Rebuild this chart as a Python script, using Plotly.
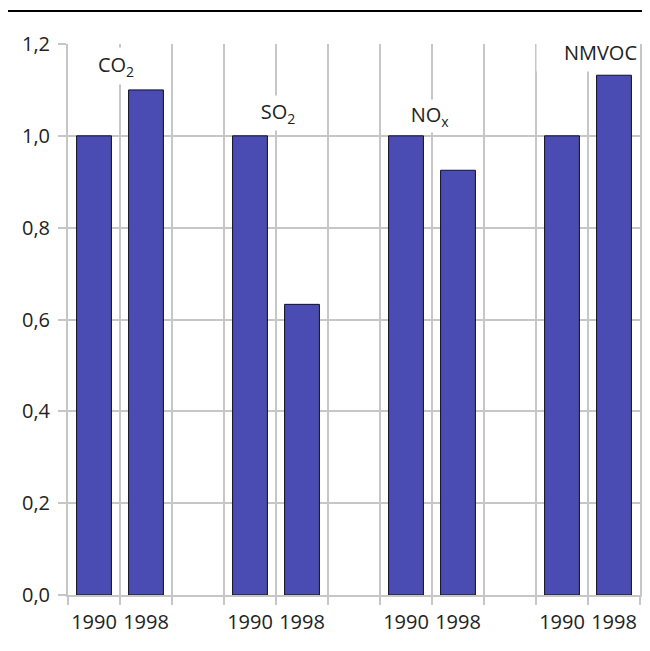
import plotly.graph_objects as go

categories = ["CO2 1990", "CO2 1998", "gap1", "SO2 1990", "SO2 1998", "gap2",
              "NOx 1990", "NOx 1998", "gap3", "NMVOC 1990", "NMVOC 1998"]
tick_labels = ["1990", "1998", "", "1990", "1998", "", "1990", "1998", "", "1990", "1998"]
values = [1.0, 1.10, None, 1.0, 0.633, None, 1.0, 0.925, None, 1.0, 1.132]
y_ticks = [0.0, 0.2, 0.4, 0.6, 0.8, 1.0, 1.2]
y_tick_text = ["0,0", "0,2", "0,4", "0,6", "0,8", "1,0", "1,2"]

FONT = "Open Sans"
GRID = "#c6c6c6"
FS = 20

fig = go.Figure(go.Bar(
    x=categories, y=values,
    marker=dict(color="#4a4cb4", line=dict(color="#111111", width=1)),
    width=0.67,
))

fig.update_layout(
    width=650, height=651,
    margin=dict(l=60, r=18, t=36, b=64),
    paper_bgcolor="white", plot_bgcolor="white",
    showlegend=False,
    font=dict(family=FONT, size=FS, color="#222222"),
    xaxis=dict(
        type="category", range=[-0.5, 10.5],
        tickson="boundaries", tickvals=categories, ticktext=tick_labels,
        tickangle=0, automargin=False,
        showgrid=True, gridcolor=GRID, gridwidth=2,
        ticks="outside", ticklen=8, tickcolor=GRID, tickwidth=2,
        showline=True, linecolor=GRID, linewidth=2,
        tickfont=dict(family=FONT, size=FS, color="#222222"),
        ticklabelstandoff=8,
        fixedrange=True,
    ),
    yaxis=dict(
        range=[0, 1.2], tickvals=y_ticks, ticktext=y_tick_text,
        automargin=False,
        showgrid=True, gridcolor=GRID, gridwidth=2,
        ticks="outside", ticklen=8, tickcolor=GRID, tickwidth=2,
        showline=True, linecolor=GRID, linewidth=2, mirror=True,
        zeroline=False,
        tickfont=dict(family=FONT, size=FS, color="#222222"),
        ticklabelstandoff=4,
    ),
    shapes=[dict(type="line", xref="paper", yref="paper",
                 x0=-0.11, x1=1.04, y0=1.0599, y1=1.0599,
                 line=dict(color="black", width=2))],
)

labels = [
    dict(text="CO<sub>2</sub>", x=0.42, y=1.152, w=54, h=32, align="center"),
    dict(text="SO<sub>2</sub>", x=3.54, y=1.05, w=54, h=30, align="center"),
    dict(text="NO<sub>x</sub>", x=6.46, y=1.043, w=54, h=28, align="center"),
    dict(text="NMVOC", x=9.5, y=1.182, w=98, h=34, align="right"),
]
for lb in labels:
    fig.add_annotation(
        text=lb["text"], x=lb["x"], y=lb["y"], xref="x", yref="y",
        showarrow=False, bgcolor="white", width=lb["w"], height=lb["h"],
        align=lb["align"], valign="middle", borderpad=2,
        font=dict(family=FONT, size=FS, color="#222222"),
    )

fig.write_html("out.html")
